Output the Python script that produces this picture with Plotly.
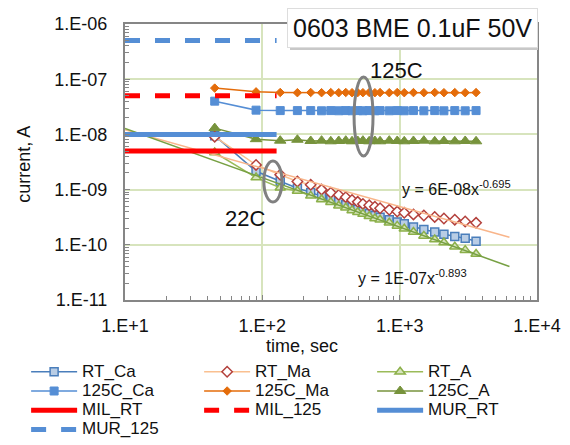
import plotly.graph_objects as go

# ---------------- data ----------------
time_s = [45, 90, 135, 180, 225, 270, 315, 360, 405, 450, 495, 540, 600, 660, 720,
          840, 960, 1080, 1260, 1500, 1800, 2100, 2520, 3000, 3600]

rt_ca = [9.5e-9, 2.15e-9, 1.42e-9, 1.06e-9, 8.9e-10, 7.55e-10, 6.7e-10, 6.0e-10, 5.3e-10,
         4.9e-10, 4.4e-10, 4.05e-10, 3.7e-10, 3.4e-10, 3.15e-10, 2.85e-10, 2.6e-10, 2.4e-10,
         2.1e-10, 1.9e-10, 1.7e-10, 1.55e-10, 1.42e-10, 1.31e-10, 1.16e-10]
rt_ma = [9.1e-9, 2.8e-9, 1.86e-9, 1.4e-9, 1.22e-9, 1.0e-9, 8.8e-10, 8.0e-10, 7.3e-10,
         6.5e-10, 6.0e-10, 5.5e-10, 5.2e-10, 4.9e-10, 4.6e-10, 4.3e-10, 4.0e-10, 3.8e-10,
         3.55e-10, 3.4e-10, 3.2e-10, 3.0e-10, 2.85e-10, 2.65e-10, 2.5e-10]
rt_a = [4.7e-9, 1.65e-9, 1.08e-9, 9.4e-10, 7.7e-10, 6.6e-10, 5.9e-10, 5.1e-10, 4.7e-10,
        4.2e-10, 3.9e-10, 3.6e-10, 3.3e-10, 3.0e-10, 2.85e-10, 2.5e-10, 2.2e-10, 1.95e-10,
        1.7e-10, 1.45e-10, 1.25e-10, 1.1e-10, 9.2e-11, 8.0e-11, 6.8e-11]

c125_ca = [4.0e-8, 2.75e-8, 2.7e-8, 2.7e-8, 2.7e-8, 2.68e-8, 2.7e-8, 2.68e-8, 2.7e-8,
           2.68e-8, 2.7e-8, 2.68e-8, 2.7e-8, 2.68e-8, 2.7e-8, 2.68e-8, 2.7e-8, 2.68e-8,
           2.7e-8, 2.68e-8, 2.7e-8, 2.68e-8, 2.7e-8, 2.68e-8, 2.7e-8]
c125_ma = [6.9e-8, 5.9e-8, 5.75e-8, 5.7e-8, 5.75e-8, 5.7e-8, 5.72e-8, 5.7e-8, 5.75e-8,
           5.7e-8, 5.72e-8, 5.7e-8, 5.75e-8, 5.7e-8, 5.72e-8, 5.7e-8, 5.75e-8, 5.7e-8,
           5.72e-8, 5.7e-8, 5.75e-8, 5.7e-8, 5.72e-8, 5.7e-8, 5.72e-8]
c125_a = [1.3e-8, 8.2e-9, 7.7e-9, 8.0e-9, 7.6e-9, 7.7e-9, 7.5e-9, 7.6e-9, 7.7e-9,
          7.5e-9, 7.6e-9, 7.7e-9, 7.5e-9, 7.6e-9, 7.5e-9, 7.7e-9, 7.6e-9, 7.5e-9,
          7.6e-9, 7.7e-9, 7.5e-9, 7.6e-9, 7.5e-9, 7.6e-9, 7.5e-9]

limit_time = [10, 127]
mil_rt = [5e-9, 5e-9]
mil_125 = [5e-8, 5e-8]
mur_rt = [1e-8, 1e-8]
mur_125 = [5e-7, 5e-7]

# power-law trendlines shown on chart: y = a * x^b
trend_x = [10, 6300]
trend_ma = (6e-8, -0.695)
trend_a = (1e-7, -0.893)

x_ticks = [10, 100, 1000, 10000]
x_ticktext = ["1.E+1", "1.E+2", "1.E+3", "1.E+4"]
y_ticks = [1e-11, 1e-10, 1e-9, 1e-8, 1e-7, 1e-6]
y_ticktext = ["1.E-11", "1.E-10", "1.E-09", "1.E-08", "1.E-07", "1.E-06"]

FONT = "Liberation Sans, Arial, sans-serif"

fig = go.Figure()


def lname(n):
    return '<span style="font-size:17px">' + n + '</span>'


def series(name, y, lcolor, lw, symbol, msize, mfill, mline, mlw=1.5):
    fig.add_trace(go.Scatter(
        x=time_s, y=y, name=lname(name), mode="lines+markers",
        line=dict(color=lcolor, width=lw),
        marker=dict(symbol=symbol, size=msize, color=mfill,
                    line=dict(color=mline, width=mlw))))


series("RT_Ca", rt_ca, "#4a7ebb", 1.5, "square", 8, "#b9cde5", "#4a7ebb")
series("RT_Ma", rt_ma, "#fac090", 1.5, "diamond", 8, "#ffffff", "#b3403c")
series("RT_A", rt_a, "#9bbb59", 1.5, "triangle-up", 9, "#d7e4bd", "#8cb04a")

for (a, b), col in [(trend_ma, "#f9b58a"), (trend_a, "#77a043")]:
    fig.add_trace(go.Scatter(
        x=trend_x, y=[a * v ** b for v in trend_x], mode="lines",
        line=dict(color=col, width=1.5), showlegend=False, hoverinfo="skip"))

series("125C_Ca", c125_ca, "#558ed5", 1.5, "square", 8, "#558ed5", "#558ed5", 1)
series("125C_Ma", c125_ma, "#e46c0a", 1.5, "diamond", 6.5, "#e46c0a", "#e46c0a", 1)
series("125C_A", c125_a, "#77933c", 1.5, "triangle-up", 10, "#77933c", "#77933c", 1)


def limit(name, y, color, dash):
    fig.add_trace(go.Scatter(x=limit_time, y=y, name=lname(name), mode="lines",
                             line=dict(color=color, width=5, dash=dash)))


limit("MIL_RT", mil_rt, "#ff0000", "solid")
limit("MIL_125", mil_125, "#ff0000", "dash")
limit("MUR_RT", mur_rt, "#558ed5", "solid")
limit("MUR_125", mur_125, "#558ed5", "dash")

axis_common = dict(
    type="log", showgrid=True, gridcolor="#d7e4bd", gridwidth=1.5,
    showline=True, linecolor="#868686", linewidth=2, mirror=True,
    ticks="inside", ticklen=5, tickcolor="#868686",
    tickfont=dict(family=FONT, size=18, color="#111111"),
    minor=dict(ticks="inside", ticklen=4, tickcolor="#868686", dtick="D1", showgrid=False),
    zeroline=False,
)

fig.update_layout(
    width=570, height=445,
    margin=dict(l=125, r=33, t=24, b=145, autoexpand=False),
    paper_bgcolor="white", plot_bgcolor="white",
    font=dict(family=FONT, size=16, color="#111111"),
    xaxis=dict(axis_common, range=[1, 4], tickmode="array", tickvals=x_ticks,
               ticktext=x_ticktext, ticklabelstandoff=8),
    yaxis=dict(axis_common, range=[-11, -6], tickmode="array", tickvals=y_ticks,
               ticktext=y_ticktext, ticklabelstandoff=12),
    legend=dict(orientation="h", x=-0.24, y=-0.207, xanchor="left", yanchor="top",
                entrywidth=112, entrywidthmode="pixels", itemwidth=46,
                font=dict(family=FONT, size=12.5, color="#111111"),
                bgcolor="rgba(0,0,0,0)", traceorder="normal"),
    showlegend=True,
)

# axis titles
fig.add_annotation(text="time, sec", xref="paper", yref="paper", x=0.43, y=-0.167,
                   showarrow=False, font=dict(size=18), xanchor="center", yanchor="middle")
fig.add_annotation(text="current, A", xref="paper", yref="paper", x=-0.245, y=0.49,
                   showarrow=False, font=dict(size=18), textangle=-90,
                   xanchor="center", yanchor="middle")

# title box with shadow
fig.add_shape(type="rect", xref="paper", yref="paper", x0=0.4005, x1=1.0024, y0=0.906, y1=1.047,
              fillcolor="#c8c8c8", line=dict(width=0), layer="above")
fig.add_annotation(text="0603 BME 0.1uF 50V", xref="paper", yref="paper", x=0.697, y=0.987,
                   showarrow=False, font=dict(size=25, color="#111111"),
                   bgcolor="white", bordercolor="#dddddd", borderwidth=1, borderpad=5,
                   xanchor="center", yanchor="middle")

# temperature labels and ellipses
fig.add_annotation(text="125C", xref="paper", yref="paper", x=0.660, y=0.833,
                   showarrow=False, font=dict(size=22), xanchor="center", yanchor="middle")
fig.add_annotation(text="22C", xref="paper", yref="paper", x=0.291, y=0.297,
                   showarrow=False, font=dict(size=22), xanchor="center", yanchor="middle")
fig.add_shape(type="circle", xref="paper", yref="paper", x0=0.556, x1=0.602, y0=0.522, y1=0.808,
              line=dict(color="#808080", width=3))
fig.add_shape(type="circle", xref="paper", yref="paper", x0=0.337, x1=0.381, y0=0.355, y1=0.504,
              line=dict(color="#808080", width=3))

# trendline equations
fig.add_annotation(text="y = 6E-08x<sup>-0.695</sup>", xref="paper", yref="paper",
                   x=0.805, y=0.405, showarrow=False, font=dict(size=16),
                   xanchor="center", yanchor="middle")
fig.add_annotation(text="y = 1E-07x<sup>-0.893</sup>", xref="paper", yref="paper",
                   x=0.697, y=0.085, showarrow=False, font=dict(size=16),
                   xanchor="center", yanchor="middle")

fig.write_html("out.html")
